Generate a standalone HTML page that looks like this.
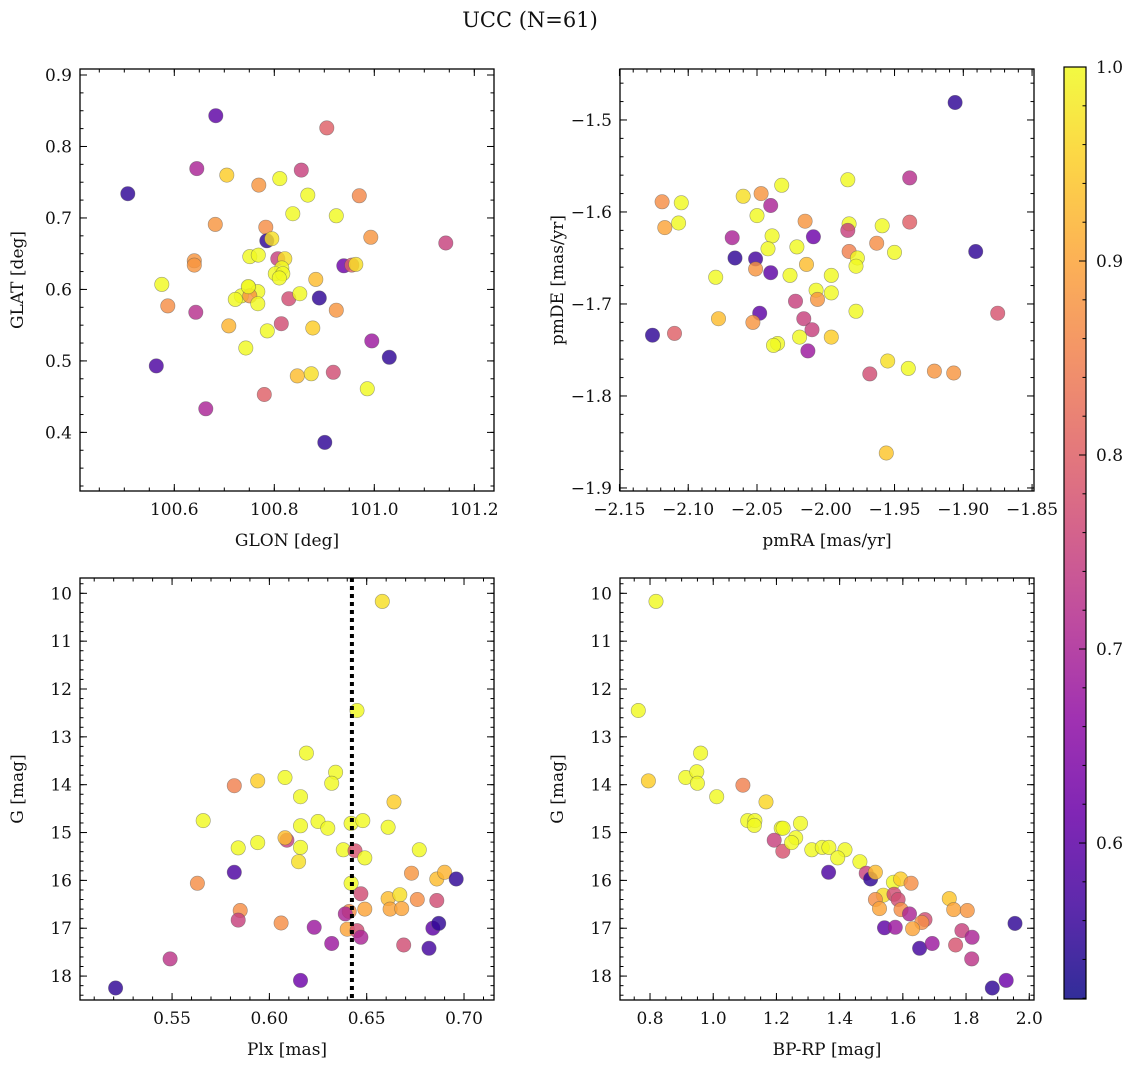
<!DOCTYPE html>
<html><head><meta charset="utf-8">
<style>
html,body{margin:0;padding:0;background:#fff;}
svg{display:block;font-family:"DejaVu Serif","Liberation Serif",serif;}
</style></head>
<body>
<svg id="fig" width="1136" height="1067" viewBox="0 0 1136 1067" xmlns="http://www.w3.org/2000/svg">
<text x="530" y="27" font-size="21" text-anchor="middle" fill="#111">UCC (N=61)</text>
</svg>
<script>
// ---- data: panel 1 (GLON vs GLAT)
const glonX=[100.683,100.905,100.645,100.705,100.854,100.507,100.769,100.811,100.867,100.970,100.837,100.924,100.682,100.783,100.785,100.795,100.993,101.143,100.751,100.768,100.807,100.821,100.640,100.640,100.815,100.939,100.955,100.963,100.802,100.817,100.810,100.575,100.883,100.749,100.767,100.734,100.722,100.751,100.767,100.829,100.851,100.890,100.587,100.643,100.924,100.709,100.786,100.814,100.877,100.743,100.995,101.030,100.564,100.846,100.874,100.918,100.986,100.780,100.663,100.901,100.748];
const glatY=[0.843,0.826,0.769,0.760,0.767,0.734,0.746,0.755,0.732,0.731,0.706,0.703,0.691,0.687,0.668,0.671,0.673,0.665,0.646,0.648,0.643,0.643,0.640,0.634,0.630,0.633,0.634,0.635,0.622,0.622,0.616,0.607,0.614,0.603,0.597,0.591,0.586,0.591,0.580,0.587,0.594,0.588,0.577,0.568,0.571,0.549,0.542,0.552,0.546,0.518,0.528,0.505,0.493,0.479,0.482,0.484,0.461,0.453,0.433,0.386,0.604];
const glonP=[0.60,0.80,0.70,0.95,0.75,0.55,0.88,1.0,1.0,0.86,1.0,1.0,0.88,0.87,0.55,0.97,0.88,0.75,1.0,1.0,0.75,0.97,0.88,0.88,1.0,0.62,0.80,0.97,1.0,1.0,1.0,1.0,0.93,1.0,1.0,1.0,1.0,0.88,1.0,0.77,1.0,0.55,0.87,0.72,0.88,0.92,1.0,0.77,0.95,1.0,0.68,0.55,0.58,0.93,0.97,0.77,1.0,0.80,0.70,0.55,1.0];
// ---- data: panel 2 (pmRA vs pmDE)
const pmraX=[-1.906,-1.984,-1.939,-2.119,-2.105,-2.060,-2.047,-2.032,-2.040,-2.050,-2.117,-2.107,-2.015,-1.983,-1.984,-1.959,-1.939,-2.068,-2.039,-2.009,-2.042,-2.021,-1.963,-1.983,-1.950,-1.977,-2.066,-2.051,-1.891,-1.978,-2.051,-2.014,-2.040,-2.080,-2.026,-1.996,-2.007,-1.996,-2.006,-2.022,-1.978,-1.875,-2.048,-2.078,-2.053,-2.016,-2.010,-2.126,-2.110,-2.019,-1.996,-2.035,-2.038,-2.013,-1.955,-1.940,-1.968,-1.921,-1.907,-1.956];
const pmdeY=[-1.481,-1.565,-1.563,-1.589,-1.590,-1.583,-1.580,-1.571,-1.593,-1.604,-1.617,-1.612,-1.610,-1.613,-1.620,-1.615,-1.611,-1.628,-1.626,-1.627,-1.640,-1.638,-1.634,-1.643,-1.644,-1.650,-1.650,-1.651,-1.643,-1.659,-1.662,-1.657,-1.666,-1.671,-1.669,-1.669,-1.685,-1.688,-1.695,-1.697,-1.708,-1.710,-1.710,-1.716,-1.720,-1.716,-1.728,-1.734,-1.732,-1.736,-1.736,-1.743,-1.745,-1.751,-1.762,-1.770,-1.776,-1.773,-1.775,-1.862];
const pmP=[0.55,1.0,0.72,0.87,1.0,0.97,0.88,1.0,0.70,1.0,0.90,1.0,0.88,1.0,0.75,1.0,0.80,0.70,1.0,0.62,1.0,1.0,0.87,0.85,1.0,1.0,0.55,0.57,0.55,1.0,0.88,0.93,0.60,1.0,1.0,1.0,1.0,1.0,0.88,0.75,1.0,0.78,0.60,0.93,0.88,0.75,0.75,0.55,0.80,1.0,0.95,1.0,1.0,0.68,0.97,1.0,0.77,0.88,0.88,0.94];
// ---- data: panel 3 (Plx vs G)
const plxX=[0.658,0.645,0.619,0.634,0.632,0.582,0.594,0.608,0.616,0.664,0.566,0.625,0.630,0.642,0.648,0.661,0.616,0.584,0.594,0.609,0.608,0.616,0.638,0.644,0.649,0.677,0.615,0.582,0.563,0.642,0.673,0.686,0.690,0.696,0.647,0.661,0.667,0.676,0.686,0.585,0.584,0.641,0.649,0.662,0.668,0.639,0.606,0.623,0.684,0.687,0.640,0.645,0.647,0.632,0.669,0.682,0.549,0.616,0.521];
const plxG=[10.17,12.45,13.34,13.74,13.97,14.02,13.92,13.85,14.25,14.36,14.75,14.77,14.91,14.81,14.75,14.89,14.86,15.32,15.21,15.16,15.11,15.31,15.36,15.38,15.53,15.36,15.61,15.83,16.06,16.06,15.85,15.97,15.83,15.97,16.28,16.38,16.30,16.40,16.42,16.63,16.83,16.65,16.60,16.60,16.59,16.70,16.89,16.98,17.00,16.90,17.02,17.05,17.19,17.32,17.35,17.42,17.64,18.09,18.25];
const plxP=[0.97,1.0,1.0,1.0,1.0,0.85,0.95,1.0,1.0,0.95,1.0,1.0,1.0,1.0,1.0,1.0,1.0,1.0,1.0,0.75,0.93,1.0,1.0,0.78,1.0,1.0,0.97,0.58,0.87,1.0,0.88,0.93,0.92,0.55,0.77,0.93,0.97,0.87,0.77,0.87,0.75,0.87,0.90,0.90,0.90,0.70,0.87,0.68,0.60,0.55,0.90,0.77,0.70,0.68,0.77,0.57,0.73,0.62,0.55];
const plxLine=[0.6424];
// ---- data: panel 4 (BP-RP vs G)
const bprpX=[0.819,0.763,0.960,0.795,0.913,0.948,0.950,1.011,1.094,1.167,1.109,1.132,1.130,1.215,1.221,1.276,1.193,1.220,1.261,1.248,1.312,1.345,1.366,1.417,1.394,1.365,1.464,1.484,1.498,1.513,1.570,1.593,1.626,1.538,1.572,1.585,1.513,1.526,1.594,1.621,1.670,1.660,1.631,1.747,1.761,1.804,1.955,1.542,1.576,1.653,1.693,1.787,1.819,1.767,1.818,1.927,1.883];
const bprpG=[10.17,12.45,13.34,13.92,13.85,13.73,13.97,14.25,14.01,14.36,14.75,14.75,14.85,14.91,14.91,14.81,15.16,15.39,15.11,15.21,15.36,15.31,15.31,15.36,15.53,15.83,15.61,15.85,15.97,15.83,16.04,15.97,16.06,16.31,16.29,16.40,16.40,16.59,16.61,16.70,16.82,16.88,17.01,16.38,16.61,16.63,16.90,16.99,16.98,17.42,17.32,17.05,17.19,17.35,17.64,18.09,18.25];
const bprpP=[1.0,1.0,1.0,0.95,1.0,1.0,1.0,1.0,0.85,0.96,1.0,1.0,1.0,1.0,1.0,1.0,0.75,0.78,1.0,1.0,1.0,1.0,1.0,1.0,1.0,0.58,1.0,0.75,0.55,0.93,1.0,0.95,0.87,0.97,0.77,0.77,0.87,0.90,0.87,0.70,0.77,0.87,0.90,0.94,0.90,0.88,0.55,0.60,0.68,0.57,0.68,0.75,0.70,0.78,0.73,0.62,0.55];
// ---- tick labels
const ticks1X=[100.6,100.8,101.0,101.2], ticks1Y=[0.4,0.5,0.6,0.7,0.8,0.9];
const ticks2X=[-2.15,-2.10,-2.05,-2.00,-1.95,-1.90,-1.85], ticks2Y=[-1.9,-1.8,-1.7,-1.6,-1.5];
const ticks3X=[0.55,0.60,0.65,0.70], ticksG=[10,11,12,13,14,15,16,17,18];
const ticks4X=[0.8,1.0,1.2,1.4,1.6,1.8,2.0];
const cbTicks=[0.6,0.7,0.8,0.9,1.0];
const cbMin=0.5196, cbMax=1.0;

const NS="http://www.w3.org/2000/svg";
const svg=document.getElementById('fig');
function mk(tag,attrs,parent){const e=document.createElementNS(NS,tag);for(const k in attrs)e.setAttribute(k,attrs[k]);(parent||svg).appendChild(e);return e;}
const stops=[[13,8,135],[65,4,157],[106,0,168],[143,13,164],[177,42,144],[204,71,120],[225,100,98],[242,132,75],[252,166,54],[252,206,37],[240,249,33]];
function plasma(t){t=Math.max(0,Math.min(1,t));const s=t*10,i=Math.min(9,Math.floor(s)),f=s-i;const a=stops[i],b=stops[i+1];return 'rgb('+a.map((v,k)=>Math.round(v+(b[k]-v)*f)).join(',')+')';}
function col(p){return plasma((p-cbMin)/(cbMax-cbMin));}
function fmt(v,d){const s=v.toFixed(d);return s.replace('-','\u2212');}

function panel(cfg){
  const {name,x0,y0,w,h,xd,yd,xt,yt,xminor,yminor,xdec,ydec,xlab,ylab}=cfg;
  const sx=v=>x0+(v-xd[0])/(xd[1]-xd[0])*w;
  const sy=v=>y0+(yd[1]-v)/(yd[1]-yd[0])*h;
  const g=mk('g',{});
  
  
  const pts=mk('g',{},g);
  
  
  for(let i=0;i<cfg.xs.length;i++){
    const c=mk('circle',{cx:sx(cfg.xs[i]).toFixed(1),cy:sy(cfg.ys[i]).toFixed(1),r:7.2,fill:col(cfg.ps[i]),'fill-opacity':0.82,stroke:'#555','stroke-opacity':0.55,'stroke-width':0.6},pts);
    
    
  }
  if(cfg.vline){
    const l=mk('line',{x1:sx(cfg.vline[0]),x2:sx(cfg.vline[0]),y1:y0,y2:y0+h,stroke:'#000','stroke-width':4,'stroke-dasharray':'4 4'},g);
    
    
  }
  const ax=mk('g',{stroke:'#000','stroke-width':1},g);
  
  
  // minor ticks
  const mx0=Math.ceil(xd[0]/xminor-1e-6),mx1=Math.floor(xd[1]/xminor+1e-6);
  for(let k=mx0;k<=mx1;k++){const X=sx(k*xminor);mk('line',{x1:X,x2:X,y1:y0+h,y2:y0+h-3.5},ax);mk('line',{x1:X,x2:X,y1:y0,y2:y0+3.5},ax);}
  const my0=Math.ceil(Math.min(...yd)/yminor-1e-6),my1=Math.floor(Math.max(...yd)/yminor+1e-6);
  for(let k=my0;k<=my1;k++){const Y=sy(k*yminor);mk('line',{x1:x0,x2:x0+3.5,y1:Y,y2:Y},ax);mk('line',{x1:x0+w,x2:x0+w-3.5,y1:Y,y2:Y},ax);}
  xt.forEach(v=>{const X=sx(v);mk('line',{x1:X,x2:X,y1:y0+h,y2:y0+h-7},ax);mk('line',{x1:X,x2:X,y1:y0,y2:y0+7},ax);
    const t=mk('text',{x:X,y:y0+h+24,'font-size':17,'text-anchor':'middle',fill:'#111',stroke:'none'},g);t.textContent=fmt(v,xdec);
    
    });
  yt.forEach(v=>{const Y=sy(v);mk('line',{x1:x0,x2:x0+7,y1:Y,y2:Y},ax);mk('line',{x1:x0+w,x2:x0+w-7,y1:Y,y2:Y},ax);
    const t=mk('text',{x:x0-8,y:Y+6,'font-size':17,'text-anchor':'end',fill:'#111',stroke:'none'},g);t.textContent=fmt(v,ydec);
    
    });
  const fr=mk('rect',{x:x0,y:y0,width:w,height:h,fill:'none',stroke:'#000','stroke-width':1.3},g);
  
  
  const xl=mk('text',{x:x0+w/2,y:y0+h+55,'font-size':17,'text-anchor':'middle',fill:'#111'},g);xl.textContent=xlab;
  
  
  const yl=mk('text',{x:0,y:0,'font-size':17,'text-anchor':'middle',fill:'#111',transform:'translate('+(x0-57)+','+(y0+h/2)+') rotate(-90)'},g);yl.textContent=ylab;
  
  
}
panel({name:'glon-glat',x0:80,y0:69,w:414,h:422,xd:[100.4114,101.2394],yd:[0.318,0.9084],xt:ticks1X,yt:ticks1Y,xminor:0.05,yminor:0.025,xdec:1,ydec:1,xlab:'GLON [deg]',ylab:'GLAT [deg]',xs:glonX,ys:glatY,ps:glonP});
panel({name:'pmra-pmde',x0:620,y0:69,w:414,h:422,xd:[-2.1496,-1.8486],yd:[-1.9033,-1.4446],xt:ticks2X,yt:ticks2Y,xminor:0.01,yminor:0.02,xdec:2,ydec:1,xlab:'pmRA [mas/yr]',ylab:'pmDE [mas/yr]',xs:pmraX,ys:pmdeY,ps:pmP});
panel({name:'plx-g',x0:80,y0:578,w:414,h:422,xd:[0.5027,0.7154],yd:[18.50,9.68],xt:ticks3X,yt:ticksG,xminor:0.01,yminor:0.2,xdec:2,ydec:0,xlab:'Plx [mas]',ylab:'G [mag]',xs:plxX,ys:plxG,ps:plxP,vline:plxLine});
panel({name:'bprp-g',x0:620,y0:578,w:414,h:422,xd:[0.705,2.015],yd:[18.50,9.68],xt:ticks4X,yt:ticksG,xminor:0.05,yminor:0.2,xdec:1,ydec:0,xlab:'BP-RP [mag]',ylab:'G [mag]',xs:bprpX,ys:bprpG,ps:bprpP});

// colorbar
const cbx=1064,cby=67,cbw=22,cbh=932;
const cyS=v=>cby+(cbMax-v)/(cbMax-cbMin)*cbh;
const cb=mk('g',{});


const defs=mk('defs',{},cb);
const lg=mk('linearGradient',{id:'cbg',x1:0,y1:1,x2:0,y2:0},defs);
for(let i=0;i<=20;i++){mk('stop',{offset:i/20,'stop-color':plasma(i/20),'stop-opacity':0.85},lg);}
mk('rect',{x:cbx,y:cby,width:cbw,height:cbh,fill:'url(#cbg)',stroke:'#000','stroke-width':1.2},cb);
for(let k=Math.ceil(cbMin/0.02);k<=Math.floor(cbMax/0.02+1e-6);k++){const Y=cyS(k*0.02);mk('line',{x1:cbx+cbw,x2:cbx+cbw-3.5,y1:Y,y2:Y,stroke:'#000'},cb);}
cbTicks.forEach(v=>{const Y=cyS(v);mk('line',{x1:cbx+cbw,x2:cbx+cbw-7,y1:Y,y2:Y,stroke:'#000'},cb);
  const t=mk('text',{x:cbx+cbw+10,y:Y+6,'font-size':17,fill:'#111'},cb);t.textContent=v.toFixed(1);
  
  });
</script>
</body></html>
